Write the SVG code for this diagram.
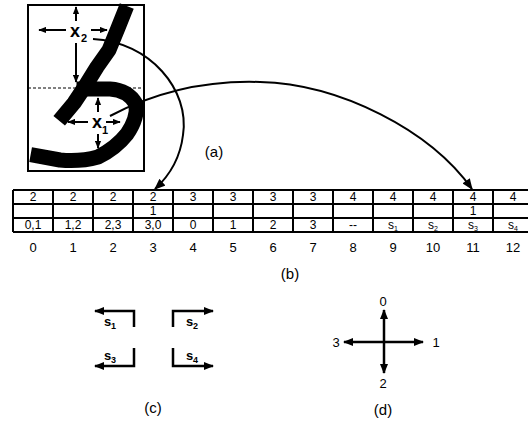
<svg xmlns="http://www.w3.org/2000/svg" width="528" height="421" viewBox="0 0 528 421">
<style>
text{font-family:"Liberation Sans",Arial,sans-serif;fill:#000}
.cell{font-size:12px;text-anchor:middle}
.idx{font-size:13px;text-anchor:middle}
.lab{font-size:15px;text-anchor:middle}
.bold{font-weight:bold}
.tl{stroke:#000;stroke-width:2;fill:none}
.conn{stroke:#000;stroke-width:2;fill:none}
.sa{stroke:#000;stroke-width:2;fill:none}
.ba{stroke:#000;stroke-width:2.5;fill:none}
.ink{stroke:#000;stroke-width:15;fill:none;stroke-linejoin:round;stroke-linecap:square}
</style>
<defs>
<marker id="big" viewBox="0 0 10 8" refX="9" refY="4" markerWidth="12" markerHeight="9" orient="auto" markerUnits="userSpaceOnUse"><path d="M0,0 L10,4 L0,8 z"/></marker>
<marker id="sm" viewBox="0 0 10 8" refX="9" refY="4" markerWidth="8" markerHeight="7" orient="auto" markerUnits="userSpaceOnUse"><path d="M0,0 L10,4 L0,8 z"/></marker>
<marker id="mid" viewBox="0 0 10 8" refX="9" refY="4" markerWidth="11" markerHeight="8" orient="auto" markerUnits="userSpaceOnUse"><path d="M0,0 L10,4 L0,8 z"/></marker>
</defs>

<g id="image">
<rect x="28" y="5" width="116" height="166" fill="#fff" stroke="#000" stroke-width="2"/>
<line x1="28" y1="88" x2="144" y2="88" stroke="#000" stroke-width="1" stroke-dasharray="3,2"/>
<path class="ink" d="M124,13 L118,28 L109,50 L97,67 L84,88 L74,103 L64,115"/>
<path class="ink" d="M84,89 L110,89 Q128,90 136,104 Q138,118 127,134 Q116,148 98,157 Q80,162 60,160 L38,156"/>
<g id="x2">
<text x="75" y="37" font-size="18" class="bold" text-anchor="middle">x</text>
<text x="84" y="42" font-size="11" class="bold" text-anchor="middle">2</text>
<line class="sa" x1="66" y1="30" x2="39" y2="30" marker-end="url(#sm)"/>
<line class="sa" x1="91" y1="30" x2="107" y2="30" marker-end="url(#sm)"/>
<line class="sa" x1="76" y1="21" x2="76" y2="7" marker-end="url(#sm)"/>
<line class="sa" x1="76" y1="43" x2="76" y2="82" marker-end="url(#sm)"/>
</g>
<g id="x1">
<text x="97" y="128" font-size="18" class="bold" text-anchor="middle">x</text>
<text x="105" y="134" font-size="11" class="bold" text-anchor="middle">1</text>
<line class="sa" x1="88" y1="122" x2="68" y2="122" marker-end="url(#sm)"/>
<line class="sa" x1="106" y1="122" x2="120" y2="122" marker-end="url(#sm)"/>
<line class="sa" x1="98" y1="112" x2="98" y2="98" marker-end="url(#sm)"/>
<line class="sa" x1="98" y1="134" x2="98" y2="148" marker-end="url(#sm)"/>
</g>
</g>
<text class="lab" x="214" y="157">(a)</text>

<g id="table">
<path class="tl" d="M13,190 H533 M13,204 H533 M13,218 H533 M13,232 H533"/>
<path class="tl" d="M13,190 V232 M53,190 V232 M93,190 V232 M133,190 V232 M173,190 V232 M213,190 V232 M253,190 V232 M293,190 V232 M333,190 V232 M373,190 V232 M413,190 V232 M453,190 V232 M493,190 V232"/>
<g class="cell">
<text x="33" y="201">2</text><text x="73" y="201">2</text><text x="113" y="201">2</text><text x="153" y="201">2</text><text x="193" y="201">3</text><text x="233" y="201">3</text><text x="273" y="201">3</text><text x="313" y="201">3</text><text x="353" y="201">4</text><text x="393" y="201">4</text><text x="433" y="201">4</text><text x="473" y="201">4</text><text x="513" y="201">4</text>
<text x="153" y="215">1</text><text x="473" y="215">1</text>
<text x="33" y="229">0,1</text><text x="73" y="229">1,2</text><text x="113" y="229">2,3</text><text x="153" y="229">3,0</text><text x="193" y="229">0</text><text x="233" y="229">1</text><text x="273" y="229">2</text><text x="313" y="229">3</text><text x="353" y="229">--</text>
<text x="393" y="229">s<tspan font-size="7" dy="2">1</tspan></text>
<text x="433" y="229">s<tspan font-size="7" dy="2">2</tspan></text>
<text x="473" y="229">s<tspan font-size="7" dy="2">3</tspan></text>
<text x="513" y="229">s<tspan font-size="7" dy="2">4</tspan></text>
</g>
<g class="idx">
<text x="33" y="252">0</text><text x="73" y="252">1</text><text x="113" y="252">2</text><text x="153" y="252">3</text><text x="193" y="252">4</text><text x="233" y="252">5</text><text x="273" y="252">6</text><text x="313" y="252">7</text><text x="353" y="252">8</text><text x="393" y="252">9</text><text x="433" y="252">10</text><text x="473" y="252">11</text><text x="513" y="252">12</text>
</g>
</g>
<text class="lab" x="290" y="279">(b)</text>

<g id="connectors">
<path class="conn" d="M93,39 C150,42 190,90 183,135 C180,160 168,177 155,189" marker-end="url(#big)"/>
<path class="conn" d="M110,116 C150,95 200,80 260,82 C340,84 430,130 472,189" marker-end="url(#big)"/>
</g>

<g id="s1">
<polyline class="ba" points="134,327 134,311 95,311" marker-end="url(#mid)"/>
<text x="110" y="326" font-size="13" class="bold" text-anchor="middle">s<tspan font-size="9" dy="3">1</tspan></text>
</g>
<g id="s2">
<polyline class="ba" points="173,327 173,311 213,311" marker-end="url(#mid)"/>
<text x="192" y="326" font-size="13" class="bold" text-anchor="middle">s<tspan font-size="9" dy="3">2</tspan></text>
</g>
<g id="s3">
<polyline class="ba" points="134,348 134,366 95,366" marker-end="url(#mid)"/>
<text x="110" y="360" font-size="13" class="bold" text-anchor="middle">s<tspan font-size="9" dy="3">3</tspan></text>
</g>
<g id="s4">
<polyline class="ba" points="173,348 173,366 213,366" marker-end="url(#mid)"/>
<text x="192" y="360" font-size="13" class="bold" text-anchor="middle">s<tspan font-size="9" dy="3">4</tspan></text>
</g>
<text class="lab" x="153" y="413">(c)</text>

<g id="dirs">
<line class="ba" x1="384" y1="342" x2="384" y2="310" marker-end="url(#mid)"/>
<line class="ba" x1="384" y1="342" x2="384" y2="373" marker-end="url(#mid)"/>
<line class="ba" x1="384" y1="342" x2="344" y2="342" marker-end="url(#mid)"/>
<line class="ba" x1="384" y1="342" x2="423" y2="342" marker-end="url(#mid)"/>
<text class="idx" x="383" y="306">0</text>
<text class="idx" x="336" y="347">3</text>
<text class="idx" x="436" y="347">1</text>
<text class="idx" x="383" y="388">2</text>
</g>
<text class="lab" x="383" y="415">(d)</text>
</svg>
